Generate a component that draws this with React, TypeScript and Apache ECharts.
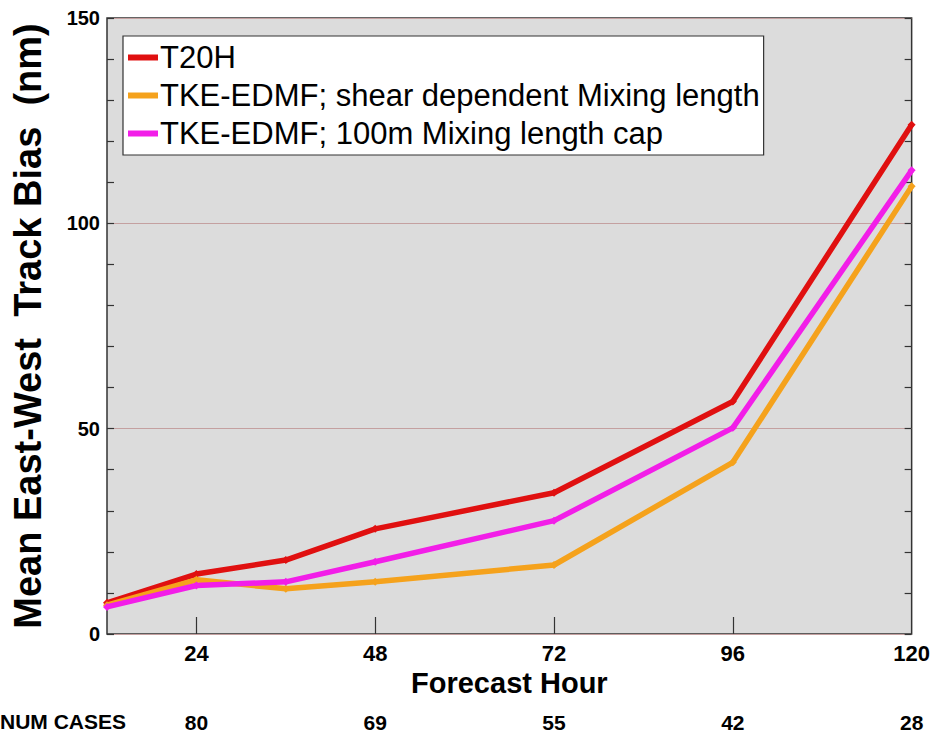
import React, { useEffect, useRef } from "react";
import * as echarts from "echarts";

const hours = [12, 24, 36, 48, 72, 96, 120];
const t20h = [7.6, 14.6, 18.0, 25.6, 34.4, 56.6, 124.0];
const tkeShear = [7.0, 13.2, 11.0, 12.7, 16.8, 41.8, 109.0];
const tkeCap = [6.6, 11.8, 12.7, 17.6, 27.6, 50.2, 112.9];
const seriesNames = [
  "T20H",
  "TKE-EDMF; shear dependent Mixing length",
  "TKE-EDMF; 100m Mixing length cap",
];
const seriesColors = ["#e01010", "#f5a21c", "#f21ee8"];
const xTicks = [24, 48, 72, 96, 120];
const numCases = [80, 69, 55, 42, 28];
const yTitle = "Mean East-West  Track Bias  (nm)";
const xTitle = "Forecast Hour";
const casesLabel = "NUM CASES";

const FONT = "'Liberation Sans', Arial, sans-serif";

export default function App() {
  const ref = useRef<HTMLDivElement>(null);
  useEffect(() => {
    if (!ref.current) return;
    const chart = echarts.init(ref.current, undefined, { renderer: "svg" });
    const data = [t20h, tkeShear, tkeCap];
    const yAxisBase = {
      type: "value" as const,
      min: 0,
      max: 150,
      interval: 50,
      axisLine: { show: false },
      axisTick: { show: true, inside: true, length: 7, lineStyle: { color: "#333", width: 1.2 } },
      minorTick: { show: true, splitNumber: 5, length: 7, lineStyle: { color: "#333", width: 1.2 } },
    };
    chart.setOption({
      animation: false,
      textStyle: { fontFamily: FONT },
      grid: {
        left: 107,
        right: 20,
        top: 18,
        bottom: 99,
        show: true,
        backgroundColor: "#dcdcdc",
        borderColor: "#333",
        borderWidth: 1.5,
      },
      legend: {
        orient: "vertical",
        left: 123,
        top: 36,
        backgroundColor: "#ffffff",
        borderColor: "#333",
        borderWidth: 1.2,
        borderRadius: 0,
        padding: [6, 4, 6, 5],
        itemGap: 7,
        itemWidth: 30,
        itemHeight: 6,
        icon: "rect",
        textStyle: { fontSize: 31, color: "#000", fontFamily: FONT, padding: [0, 0, 0, -3] },
        data: seriesNames,
      },
      xAxis: [
        {
          type: "value",
          min: 12,
          max: 120,
          name: xTitle,
          nameLocation: "middle",
          nameGap: 32,
          nameTextStyle: { fontSize: 29, fontWeight: "bold", color: "#000", fontFamily: FONT },
          axisLine: { show: false },
          splitLine: { show: false },
          axisTick: {
            show: true,
            inside: true,
            length: 17,
            customValues: xTicks.slice(0, 4),
            lineStyle: { color: "#333", width: 1.2 },
          },
          axisLabel: {
            customValues: xTicks,
            margin: 8,
            fontSize: 22,
            fontWeight: "bold",
            color: "#000",
            fontFamily: FONT,
          },
        },
        {
          type: "value",
          min: 12,
          max: 120,
          position: "bottom",
          offset: 70,
          axisLine: { show: false },
          splitLine: { show: false },
          axisTick: { show: false },
          axisLabel: {
            customValues: xTicks,
            margin: 8,
            fontSize: 21,
            fontWeight: "bold",
            color: "#000",
            fontFamily: FONT,
            formatter: (v: number) => {
              const i = xTicks.indexOf(v);
              return i >= 0 ? String(numCases[i]) : "";
            },
          },
        },
      ],
      yAxis: [
        {
          ...yAxisBase,
          position: "left",
          name: yTitle,
          nameLocation: "middle",
          nameGap: 60,
          nameTextStyle: { fontSize: 38, fontWeight: "bold", color: "#000", fontFamily: FONT },
          splitLine: { show: true, lineStyle: { color: "#c4a0a0", width: 1 } },
          axisLabel: { fontSize: 20, fontWeight: "bold", color: "#000", margin: 7, fontFamily: FONT },
        },
        {
          ...yAxisBase,
          position: "right",
          splitLine: { show: false },
          axisLabel: { show: false },
        },
      ],
      graphic: [
        {
          type: "text",
          right: 933 - 126,
          top: 711,
          style: { text: casesLabel, fontSize: 21, fontWeight: "bold", fill: "#000", fontFamily: FONT, textAlign: "right" },
        },
      ],
      series: seriesNames.map((name, i) => ({
        name,
        type: "line",
        data: hours.map((h, j) => [h, data[i][j]]),
        color: seriesColors[i],
        lineStyle: { width: 5.5, color: seriesColors[i] },
        itemStyle: { color: seriesColors[i] },
        symbol: "diamond",
        symbolSize: 8,
        showSymbol: true,
        z: 2 + i,
      })),
    });
    return () => chart.dispose();
  }, []);
  return <div ref={ref} style={{ width: 933, height: 733, position: "absolute", left: 0, top: 0 }} />;
}
